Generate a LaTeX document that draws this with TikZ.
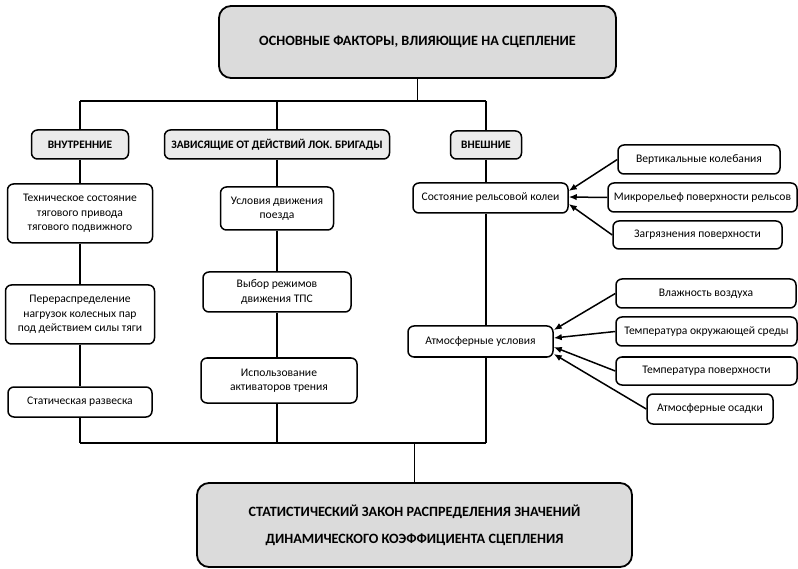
\documentclass[tikz,border=0pt]{standalone}
\usepackage{fontspec}
\setmainfont{Carlito}
\usetikzlibrary{arrows.meta,calc}
\begin{document}
\begin{tikzpicture}[x=1pt,y=-1pt,
  box/.style={draw, line width=1.5pt, rounded corners=6pt, fill=white, align=center,
    inner sep=1pt, font=\fontsize{11.6}{14.5}\selectfont},
  headbox/.style={box, fill=black!8, font=\bfseries\fontsize{11.4}{13}\selectfont},
  bigbox/.style={box, fill=black!14, rounded corners=12pt, line width=1.8pt,
    font=\bfseries\fontsize{14.2}{27}\selectfont},
  conn/.style={line width=1.5pt},
  arr/.style={line width=1.5pt, -{Latex[length=8pt,width=6.5pt]}}]
\useasboundingbox (0,0) rectangle (798,569);
% main boxes
\node[bigbox, minimum width=397pt, minimum height=72pt] (top) at (417.5,42) {ОСНОВНЫЕ ФАКТОРЫ, ВЛИЯЮЩИЕ НА СЦЕПЛЕНИЕ};
\node[bigbox, minimum width=435pt, minimum height=84pt] (bot) at (414.5,525) {СТАТИСТИЧЕСКИЙ ЗАКОН РАСПРЕДЕЛЕНИЯ ЗНАЧЕНИЙ\\ДИНАМИЧЕСКОГО КОЭФФИЦИЕНТА СЦЕПЛЕНИЯ};
% column heads
\node[headbox, minimum width=97pt, minimum height=29pt] (vn) at (80,144.5) {ВНУТРЕННИЕ};
\node[headbox, minimum width=225pt, minimum height=29pt] (zav) at (277,144.5) {ЗАВИСЯЩИЕ ОТ ДЕЙСТВИЙ ЛОК. БРИГАДЫ};
\node[headbox, minimum width=71pt, minimum height=28pt] (vnesh) at (486,145) {ВНЕШНИЕ};
% column 1
\node[box, minimum width=145pt, minimum height=59pt] (tech) at (80,213.5) {Техническое состояние\\тягового привода\\тягового подвижного};
\node[box, minimum width=149pt, minimum height=59pt] (pere) at (80,314.5) {Перераспределение\\нагрузок колесных пар\\под действием силы тяги};
\node[box, minimum width=144pt, minimum height=30pt] (stat) at (80,402) {Статическая развеска};
% column 2
\node[box, minimum width=113pt, minimum height=43pt] (usl) at (277,208.5) {Условия движения\\поезда};
\node[box, minimum width=148pt, minimum height=40pt] (vyb) at (277,292) {Выбор режимов\\движения ТПС};
\node[box, minimum width=156pt, minimum height=45pt] (isp) at (279,380.5) {Использование\\активаторов трения};
% column 3
\node[box, minimum width=155pt, minimum height=30pt] (rail) at (490.5,198) {Состояние рельсовой колеи};
\node[box, minimum width=145pt, minimum height=31pt] (atm) at (480.5,341.5) {Атмосферные условия};
% right factors
\node[box, minimum width=162pt, minimum height=29pt] (vert) at (699,159.5) {Вертикальные колебания};
\node[box, minimum width=189pt, minimum height=29pt] (micro) at (702.5,197.5) {Микрорельеф поверхности рельсов};
\node[box, minimum width=169pt, minimum height=28pt] (zagr) at (697.5,235) {Загрязнения поверхности};
\node[box, minimum width=180pt, minimum height=29pt] (vlazh) at (706,293.5) {Влажность воздуха};
\node[box, minimum width=181pt, minimum height=29pt] (tokr) at (706.5,331.5) {Температура окружающей среды};
\node[box, minimum width=181pt, minimum height=28pt] (tpov) at (706.5,371) {Температура поверхности};
\node[box, minimum width=126pt, minimum height=30pt] (osad) at (710,409) {Атмосферные осадки};
% junction coordinates
\coordinate (hL) at (80,101);
\coordinate (hR) at (486,101);
\coordinate (bL) at (80,443);
\coordinate (bR) at (486,443);
% top tree
\draw[conn] (top.south) -- (top.south |- hL);
\draw[conn] (hL) -- (hR);
\draw[conn] (vn.north) -- (vn.north |- hL);
\draw[conn] (zav.north) -- (zav.north |- hL);
\draw[conn] (vnesh.north) -- (vnesh.north |- hR);
% columns
\draw[conn] (vn.south) -- (tech.north);
\draw[conn] (tech.south) -- (pere.north);
\draw[conn] (pere.south) -- (stat.north);
\draw[conn] (stat.south) -- (bL);
\draw[conn] (zav.south) -- (usl.north);
\draw[conn] (usl.south) -- (vyb.north);
\draw[conn] (vyb.south) -- (vyb.south |- isp.north);
\draw[conn] (vyb.south |- isp.south) -- (vyb.south |- bL);
\draw[conn] (vnesh.south) -- (vnesh.south |- rail.north);
\draw[conn] (vnesh.south |- rail.south) -- (vnesh.south |- atm.north);
\draw[conn] (vnesh.south |- atm.south) -- (bR);
% bottom tree
\draw[conn] (bL) -- (bR);
\draw[conn] (bot.north) -- (bot.north |- bL);
% arrows
\draw[arr] (vert.west) -- ([yshift=7pt]rail.east);
\draw[arr] (micro.west) -- ([yshift=1pt]rail.east);
\draw[arr] (zagr.west) -- ([yshift=-6pt]rail.east);
\draw[arr] (vlazh.west) -- ([yshift=11.5pt]atm.east);
\draw[arr] (tokr.west) -- ([yshift=3.5pt]atm.east);
\draw[arr] (tpov.west) -- ([yshift=-5.5pt]atm.east);
\draw[arr] (osad.west) -- ([yshift=-12.5pt]atm.east);
\end{tikzpicture}
\end{document}
